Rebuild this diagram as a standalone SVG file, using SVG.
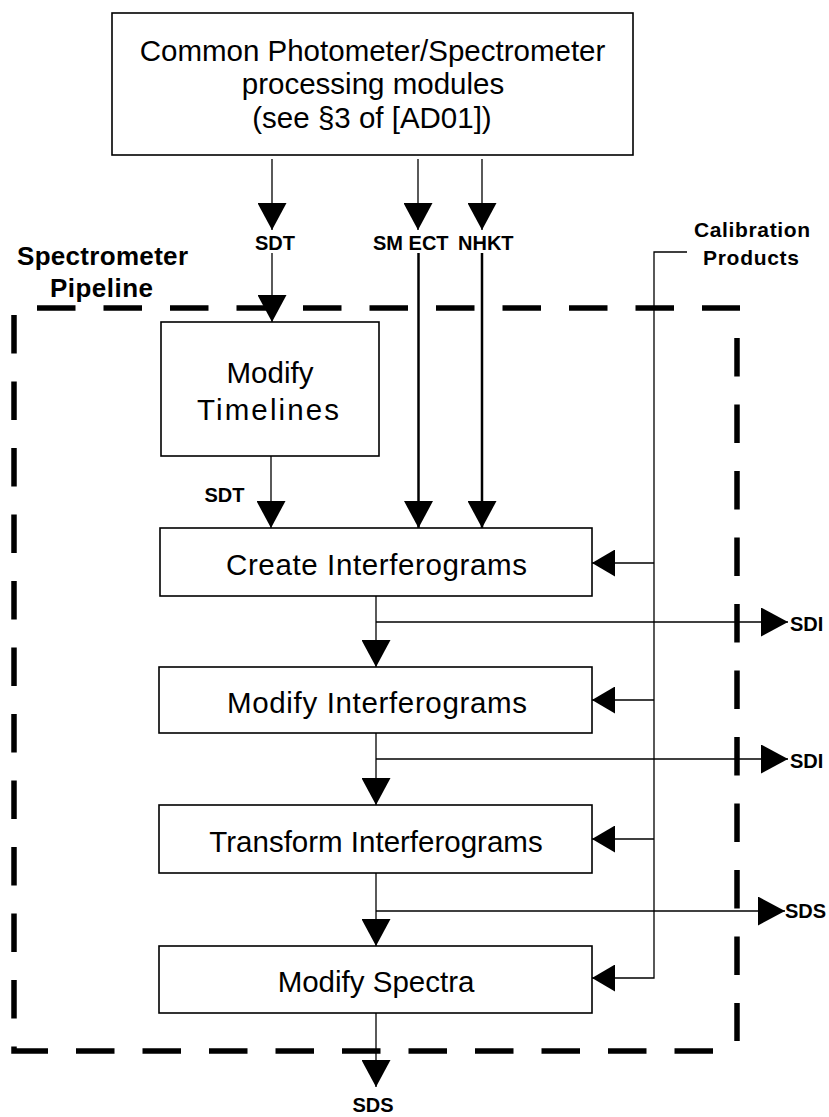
<svg xmlns="http://www.w3.org/2000/svg" width="829" height="1117" viewBox="0 0 829 1117">
<style>
.box{fill:#fff;stroke:#000;stroke-width:1.6}
.t{font-family:"Liberation Sans",Arial,sans-serif;font-size:29.5px;fill:#000}
.lb{font-family:"Liberation Sans",Arial,sans-serif;font-weight:bold;font-size:20px;fill:#000}
.hd{font-family:"Liberation Sans",Arial,sans-serif;font-weight:bold;fill:#000}
.c{fill:none;stroke:#000;stroke-width:1.3}
.ct{fill:none;stroke:#000;stroke-width:2.5}
.dash{fill:none;stroke:#000;stroke-width:5.5;stroke-dasharray:38.5 28}
</style>
<defs>
<marker id="ah" markerUnits="userSpaceOnUse" markerWidth="27" markerHeight="29" viewBox="0 0 27 29" refX="27" refY="14.5" orient="auto"><path d="M0 0L27 14.5L0 29Z" fill="#000"/></marker>
<marker id="ahs" markerUnits="userSpaceOnUse" markerWidth="23" markerHeight="27" viewBox="0 0 23 27" refX="23" refY="13.5" orient="auto"><path d="M0 0L23 13.5L0 27Z" fill="#000"/></marker>
</defs>
<rect width="829" height="1117" fill="#fff"/>

<g id="pipeline-boundary">
<path class="dash" d="M14 315V1051H727"/>
<path class="dash" d="M37 308H740"/>
<path class="dash" d="M737 338V1041"/>
<text class="hd" font-size="26" x="102.5" y="265" text-anchor="middle" textLength="171" lengthAdjust="spacing">Spectrometer</text>
<text class="hd" font-size="26" x="101.5" y="297" text-anchor="middle" textLength="103" lengthAdjust="spacing">Pipeline</text>
</g>

<g id="common-modules">
<rect class="box" x="112" y="13" width="521" height="142"/>
<text class="t" x="372.5" y="61" text-anchor="middle">Common Photometer/Spectrometer</text>
<text class="t" x="373" y="94" text-anchor="middle">processing modules</text>
<text class="t" x="372" y="128" text-anchor="middle">(see §3 of [AD01])</text>
</g>

<g id="modify-timelines">
<rect class="box" x="161" y="322" width="218" height="134"/>
<text class="t" x="270" y="383" text-anchor="middle">Modify</text>
<text class="t" x="268" y="420" text-anchor="middle" textLength="142" lengthAdjust="spacing">Timelines</text>
</g>

<g id="create-interferograms">
<rect class="box" x="160" y="528" width="432" height="68"/>
<text class="t" x="376.5" y="575" text-anchor="middle" textLength="301" lengthAdjust="spacing">Create Interferograms</text>
</g>

<g id="modify-interferograms">
<rect class="box" x="159" y="667" width="433" height="66"/>
<text class="t" x="377" y="713" text-anchor="middle" textLength="300" lengthAdjust="spacing">Modify Interferograms</text>
</g>

<g id="transform-interferograms">
<rect class="box" x="159" y="805" width="433" height="68"/>
<text class="t" x="376" y="852" text-anchor="middle">Transform Interferograms</text>
</g>

<g id="modify-spectra">
<rect class="box" x="159" y="946" width="433" height="67"/>
<text class="t" x="376" y="992" text-anchor="middle">Modify Spectra</text>
</g>

<g id="calibration-products">
<text class="hd" font-size="21" x="752" y="237" text-anchor="middle" textLength="116" lengthAdjust="spacing">Calibration</text>
<text class="hd" font-size="21" x="751" y="265" text-anchor="middle" textLength="96" lengthAdjust="spacing">Products</text>
</g>

<g id="connectors">
<path class="c" d="M272 159V230" marker-end="url(#ah)"/>
<path class="c" d="M272 253V322" marker-end="url(#ah)"/>
<path class="c" d="M418 159V230" marker-end="url(#ah)"/>
<path class="ct" d="M418.5 253V528" marker-end="url(#ah)"/>
<path class="c" d="M482 159V230" marker-end="url(#ah)"/>
<path class="ct" d="M482 253V528" marker-end="url(#ah)"/>
<path class="c" d="M271 456V528" marker-end="url(#ah)"/>
<path class="c" d="M376 596V667" marker-end="url(#ah)"/>
<path class="c" d="M376 733V805" marker-end="url(#ah)"/>
<path class="c" d="M376 873V946" marker-end="url(#ah)"/>
<path class="c" d="M376 1013V1087" marker-end="url(#ah)"/>
<path class="c" d="M376 622H788" marker-end="url(#ah)"/>
<path class="c" d="M376 759H788" marker-end="url(#ah)"/>
<path class="c" d="M376 911H785" marker-end="url(#ah)"/>
<path class="c" d="M687 252H654V978H592" marker-end="url(#ahs)"/>
<path class="c" d="M654 563H592" marker-end="url(#ahs)"/>
<path class="c" d="M654 700H592" marker-end="url(#ahs)"/>
<path class="c" d="M654 839H592" marker-end="url(#ahs)"/>
<text class="lb" x="275" y="250" text-anchor="middle">SDT</text>
<text class="lb" x="373" y="250">SM ECT</text>
<text class="lb" x="458" y="250">NHKT</text>
<text class="lb" x="224.5" y="502" text-anchor="middle">SDT</text>
<text class="lb" x="790" y="631">SDI</text>
<text class="lb" x="790" y="768">SDI</text>
<text class="lb" x="785" y="918">SDS</text>
<text class="lb" x="373" y="1112" text-anchor="middle">SDS</text>
</g>
</svg>
